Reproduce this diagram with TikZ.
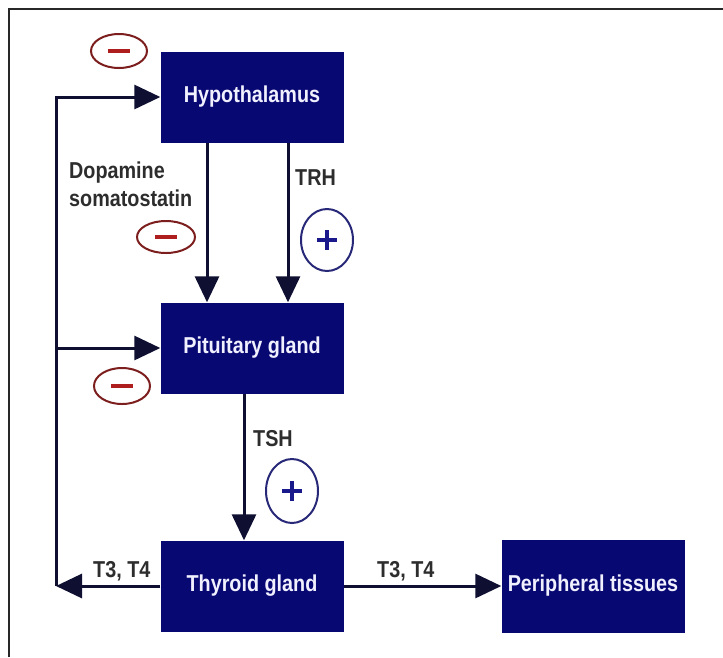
\documentclass[tikz,border=0pt]{standalone}
\usepackage{fontspec}
\setmainfont{Liberation Sans}
\newfontfamily\narrowsans{Liberation Sans}[FakeStretch=0.86]
\usetikzlibrary{arrows.meta,shapes.geometric}
\definecolor{boxblue}{RGB}{8,8,115}
\definecolor{arrowcol}{RGB}{15,15,50}
\definecolor{labelgray}{RGB}{45,45,45}
\definecolor{minusring}{RGB}{125,30,30}
\definecolor{minusbar}{RGB}{175,30,30}
\definecolor{plusring}{RGB}{40,40,120}
\definecolor{plusbar}{RGB}{25,25,140}
\definecolor{framegray}{RGB}{40,40,40}
\begin{document}
\begin{tikzpicture}[x=1pt,y=-1pt,
  organ/.style={rectangle, fill=boxblue, text={rgb,255:red,240;green,240;blue,255}, font=\narrowsans\fontsize{23}{27}\selectfont\bfseries,
    minimum width=183pt, minimum height=91pt, inner sep=0pt},
  hormone/.style={text=labelgray, font=\narrowsans\fontsize{23}{28}\selectfont\bfseries, inner sep=0pt},
  arr/.style={draw=arrowcol, line width=3pt, -{Triangle[length=26pt,width=24pt]}},
  minusmark/.style={ellipse, draw=minusring, line width=2pt, inner sep=0pt,
    path picture={\draw[line width=4.5pt, minusbar] ([xshift=-11pt]path picture bounding box.center) -- ([xshift=11pt]path picture bounding box.center);}},
  plusmark/.style={ellipse, draw=plusring, line width=2pt, inner sep=0pt,
    path picture={\draw[line width=4.5pt, plusbar] ([xshift=-10pt]path picture bounding box.center) -- ([xshift=10pt]path picture bounding box.center);
                  \draw[line width=4.5pt, plusbar] ([yshift=-10pt]path picture bounding box.center) -- ([yshift=10pt]path picture bounding box.center);}}
]
\useasboundingbox (0,0) rectangle (723,657);
\fill[white] (0,0) rectangle (723,657);
% frame edge
\draw[framegray, line width=1.3pt] (9,657) -- (9,9) -- (723,9);

% boxes
\node[organ] (hyp) at (252,97) {Hypothalamus};
\node[organ] (pit) at (252,348) {Pituitary gland};
\node[organ] (thy) at (252,586) {Thyroid gland};
\node[organ, minimum height=93pt] (per) at (593,586) {Peripheral tissues};

% feedback
\coordinate (fb) at (56,586);
\draw[arr] (thy.west) -- (fb);
\draw[arr] (fb) |- (hyp.west);
\draw[arr] (fb |- pit.west) -- (pit.west);

% hypothalamus -> pituitary
\draw[arr] ([xshift=-45pt]hyp.south) -- ([xshift=-45pt]pit.north);
\draw[arr] ([xshift=36pt]hyp.south) -- ([xshift=36pt]pit.north);
% pituitary -> thyroid
\draw[arr] ([xshift=-8pt]pit.south) -- ([xshift=-8pt]thy.north);
% thyroid -> peripheral
\draw[arr] (thy.east) -- (per.west);

% labels
\node[hormone, anchor=north west, align=left] (dopa) at (69,162) {Dopamine\\somatostatin};
\node[hormone, anchor=base west] (trh) at (295,185) {TRH};
\node[hormone, anchor=base west] (tsh) at (253,446) {TSH};
\node[hormone, anchor=base west] (t34a) at (93,577) {T3, T4};
\node[hormone, anchor=base west] (t34b) at (377,577) {T3, T4};

% signs
\node[minusmark, minimum width=56pt, minimum height=34pt] (m1) at (119,51) {};
\node[minusmark, minimum width=58pt, minimum height=32pt] (m2) at (166,237) {};
\node[minusmark, minimum width=56pt, minimum height=36pt] (m3) at (122,386) {};
\node[plusmark, minimum width=52pt, minimum height=62pt] (p1) at (327,240) {};
\node[plusmark, minimum width=52pt, minimum height=64pt] (p2) at (292,491) {};
\end{tikzpicture}
\end{document}
